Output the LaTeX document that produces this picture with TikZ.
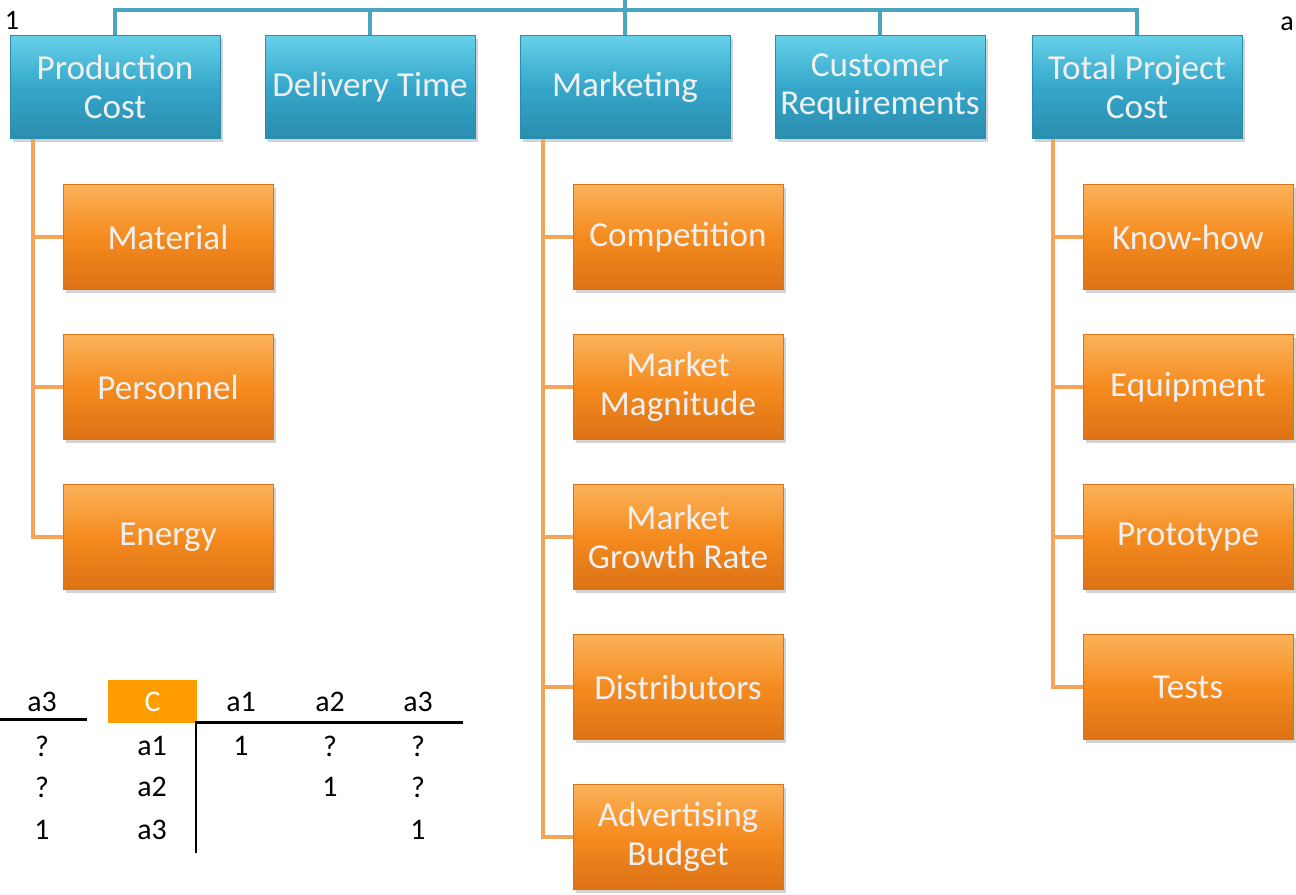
\documentclass[tikz,border=0pt]{standalone}
\usepackage{fontspec}
\setmainfont{Carlito}
\usetikzlibrary{calc,shadows}

\definecolor{catblue}{HTML}{35A7CA}
\definecolor{catblueLight}{HTML}{66D0E8}
\definecolor{catblueDark}{HTML}{2A8DAD}
\definecolor{subor}{HTML}{F58B1F}
\definecolor{suborLight}{HTML}{FBB25A}
\definecolor{suborDark}{HTML}{DC7215}
\definecolor{busline}{HTML}{4AA5C1}
\definecolor{branchline}{HTML}{F3A458}
\definecolor{cellor}{HTML}{FF9C00}

\tikzset{
  cat/.style={rectangle, minimum width=4.2cm, minimum height=2.06cm, inner sep=0pt,
    align=center, text=white!94!black, font=\fontsize{20}{22}\selectfont,
    top color=catblueLight, bottom color=catblueDark, middle color=catblue,
    draw=catblueDark, line width=0.3pt,
    drop shadow={opacity=0.35, shadow xshift=1.5pt, shadow yshift=-2pt}},
  sub/.style={cat, minimum height=2.1cm,
    top color=suborLight, bottom color=suborDark, middle color=subor, draw=suborDark},
  bus/.style={busline, line width=2.8pt},
  branch/.style={branchline, line width=2.4pt},
  rule/.style={black, line width=1.7pt},
  cell/.style={font=\fontsize{17}{19}\selectfont, inner sep=0pt}
}

\begin{document}
\begin{tikzpicture}[x=0.02cm, y=-0.02cm]
\useasboundingbox (0,0) rectangle (1296,894);

% top level
\node[cat] (pc) at (115,87) {Production\\Cost};
\node[cat] (dt) at (370,87) {Delivery Time};
\node[cat] (mk) at (625,87) {Marketing};
\node[cat] (cr) at (880,87) {Customer\\Requirements};
\node[cat] (tpc) at (1137,87) {Total Project\\Cost};

\coordinate (bus) at (625,10);
\coordinate (top) at (625,0);
\draw[bus] (pc.north) |- (bus) -| (tpc.north);
\foreach \n in {dt,mk,cr} \draw[bus] (\n.north) -- (\n.north |- bus);
\draw[bus] (bus) -- (top);

% production cost
\node[sub] (ma) at (168,237) {Material};
\node[sub] (pe) at (168,387) {Personnel};
\node[sub] (en) at (168,537) {Energy};

% marketing
\node[sub] (co) at (678,237) {Competition};
\node[sub] (mm) at (678,387) {Market\\Magnitude};
\node[sub] (mg) at (678,537) {Market\\Growth Rate};
\node[sub] (di) at (678,687) {Distributors};
\node[sub] (ab) at (678,837) {Advertising\\Budget};

% total project cost
\node[sub] (kh) at (1188,237) {Know-how};
\node[sub] (eq) at (1188,387) {Equipment};
\node[sub] (pr) at (1188,537) {Prototype};
\node[sub] (te) at (1188,687) {Tests};

\coordinate (pcstem) at ($(pc.south west)+(23,0)$);
\coordinate (mkstem) at ($(mk.south west)+(23,0)$);
\coordinate (tpcstem) at ($(tpc.south west)+(21,0)$);
\draw[branch] (pcstem) |- (en.west);
\foreach \n in {ma,pe} \draw[branch] (\n.west) -- (\n.west -| pcstem);
\draw[branch] (mkstem) |- (ab.west);
\foreach \n in {co,mm,mg,di} \draw[branch] (\n.west) -- (\n.west -| mkstem);
\draw[branch] (tpcstem) |- (te.west);
\foreach \n in {kh,eq,pr} \draw[branch] (\n.west) -- (\n.west -| tpcstem);

% labels
\node[font=\fontsize{16}{18}\selectfont] (one) at (12,20) {1};
\node[font=\fontsize{16}{18}\selectfont] (aa) at (1287,24) {a};

% left table part
\node[cell] (la3) at (42,702) {a3};
\node[cell] (lq1) at (42,746) {?};
\node[cell] (lq2) at (42,787) {?};
\node[cell] (lone) at (42,830) {1};
\coordinate (lruleA) at (0,719);
\coordinate (lruleB) at (87,719);
\draw[rule] (lruleA) -- (lruleB);

% main table
\node[fill=cellor, text=white, minimum width=1.78cm, minimum height=0.86cm,
  inner sep=0pt, font=\fontsize{17}{19}\selectfont] (cC) at (152.5,701.5) {C};
\node[cell] (h1) at (241,702) {a1};
\node[cell] (h2) at (330,702) {a2};
\node[cell] (h3) at (418,702) {a3};
\node[cell] (r1) at (152,746) {a1};
\node[cell] (r2) at (152,787) {a2};
\node[cell] (r3) at (152,830) {a3};
\node[cell] (v11) at (241,746) {1};
\node[cell] (v12) at (330,746) {?};
\node[cell] (v13) at (418,746) {?};
\node[cell] (v22) at (330,787) {1};
\node[cell] (v23) at (418,787) {?};
\node[cell] (v33) at (418,830) {1};
\coordinate (corner) at (196,722);
\coordinate (ruleEnd) at (463,722);
\coordinate (colEnd) at (196,853);
\draw[rule] (ruleEnd) -- (corner) -- (colEnd);
\end{tikzpicture}
\end{document}
